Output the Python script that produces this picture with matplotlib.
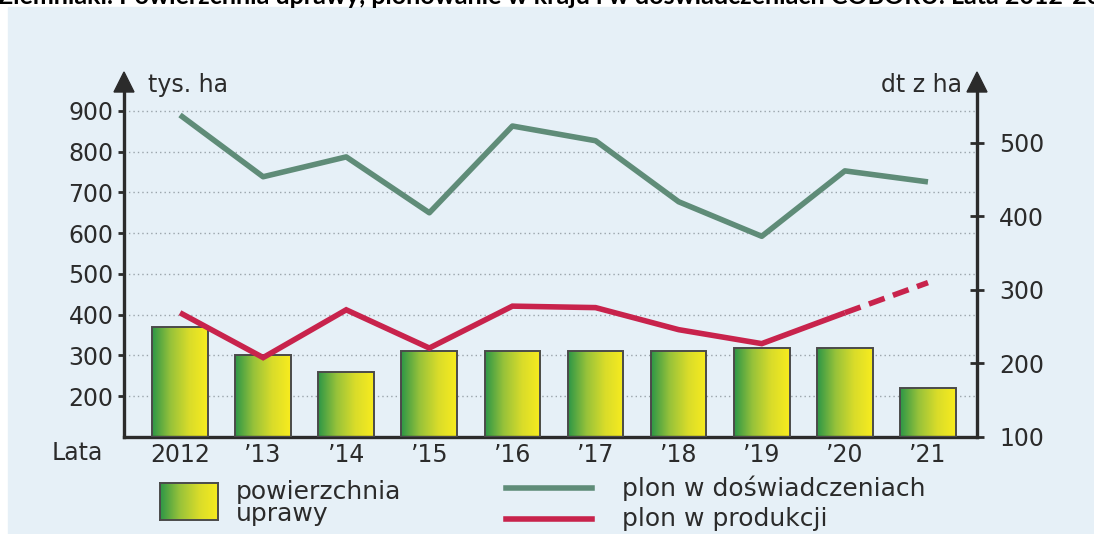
import numpy as np
import matplotlib
matplotlib.use('Agg')
import matplotlib.pyplot as plt
from matplotlib.patches import Rectangle, Polygon
from matplotlib.lines import Line2D
from matplotlib.colors import LinearSegmentedColormap

# data
years = ['2012', '\u201913', '\u201914', '\u201915', '\u201916',
         '\u201917', '\u201918', '\u201919', '\u201920', '\u201921']
area = [370, 300, 260, 310, 310, 310, 310, 318, 318, 220]          # tys. ha
yield_trials = [538, 454, 481, 405, 523, 503, 420, 373, 462, 447]  # dt z ha
yield_prod = [269, 208, 273, 221, 278, 276, 246, 227, 269, 310]    # dt z ha
left_ticks = [200, 300, 400, 500, 600, 700, 800, 900]
right_ticks = [100, 200, 300, 400, 500]

title = ('Ziemniaki. Powierzchnia uprawy, plonowanie w kraju i w '
         'do\u015bwiadczeniach COBORU. Lata 2012-2021')

plt.rcParams['font.family'] = ['DejaVu Sans']

W, H = 1094, 534
BG = '#e6f0f7'
DARK = '#2b2b2b'
GREEN = '#5f8c78'
RED = '#c8234c'
FS = 17
bar_cmap = LinearSegmentedColormap.from_list(
    'bars', ['#2c9647', '#97c23a', '#d9dc2a', '#f8ec1e'])


def px(x, y):
    # pixel position -> figure fraction
    return (x / W, 1 - y / H)


fig = plt.figure(figsize=(W / 100, H / 100), dpi=100)
fig.patches.append(Rectangle(px(8, H), 1, 1 - 7 / H, transform=fig.transFigure,
                             color=BG, zorder=-10))
fig.text(-2 / W, 1 - 4 / H, title, fontsize=18, fontweight='bold',
         family=['Lato', 'DejaVu Sans'], va='baseline', ha='left')

x0, y0 = px(124, 437)
x1, y1 = px(977, 90)
ax = fig.add_axes([x0, y0, x1 - x0, y1 - y0])
ax.set_facecolor('none')
ax2 = ax.twinx()

idx = np.arange(len(years))
base = 100

# bars with horizontal gradient
bars = ax.bar(idx, np.subtract(area, base), bottom=base, width=0.67,
              facecolor='none', edgecolor='#4a4a4a', linewidth=1.4, zorder=3)
grad = np.linspace(0, 1, 256).reshape(1, -1)
for b in bars:
    bx, by = b.get_x(), b.get_y()
    im = ax.imshow(grad, extent=[bx, bx + b.get_width(), by, by + b.get_height()],
                   aspect='auto', cmap=bar_cmap, zorder=2)
    im.set_clip_path(b)

ax.set_xlim(-0.674, 9.59)
ax.set_ylim(base, 951.5)
ax.set_yticks(left_ticks)
ax.set_xticks(idx)
ax.set_xticklabels(years)
ax.grid(axis='y', color='#9aa4ab', linestyle=(0, (1, 2.2)), linewidth=1.0, zorder=0)
ax.set_axisbelow(True)
ax.tick_params(axis='y', length=4.5, width=2, color=DARK, pad=3,
               labelsize=FS, labelcolor=DARK)
ax.tick_params(axis='x', length=0, pad=4, labelsize=FS, labelcolor=DARK)
for s in ['top', 'right']:
    ax.spines[s].set_visible(False)
for s in ['left', 'bottom']:
    ax.spines[s].set_linewidth(2.4)
    ax.spines[s].set_color(DARK)

# yield lines on the right scale
ax2.plot(idx, yield_trials, color=GREEN, linewidth=4, solid_capstyle='butt', zorder=4)
ax2.plot(idx[:-1], yield_prod[:-1], color=RED, linewidth=4,
         solid_joinstyle='miter', solid_capstyle='butt', zorder=4)
ax2.plot(idx[-2:], yield_prod[-2:], color=RED, linewidth=4,
         linestyle=(0, (3, 1.6)), dash_capstyle='butt', zorder=4)
ax2.set_ylim(base, 572)
ax2.set_yticks(right_ticks)
ax2.tick_params(axis='y', direction='inout', length=10, width=2, color=DARK,
                pad=11, labelsize=FS, labelcolor=DARK)
for s in ['top', 'left', 'bottom']:
    ax2.spines[s].set_visible(False)
ax2.spines['right'].set_linewidth(2.4)
ax2.spines['right'].set_color(DARK)

# axis arrows
for xa in (124, 977):
    fig.patches.append(Polygon([px(xa, 72), px(xa - 10, 92), px(xa + 10, 92)],
                               closed=True, transform=fig.transFigure,
                               color=DARK, zorder=5))

fig.text(*px(148, 85), 'tys. ha', fontsize=FS, color=DARK, va='center')
fig.text(*px(962, 85), 'dt z ha', fontsize=FS, color=DARK, va='center', ha='right')
fig.text(*px(52, 453), 'Lata', fontsize=FS, color=DARK, va='center')

# legend
lx0, ly0 = px(160, 520)
lx1, ly1 = px(218, 483)
lax = fig.add_axes([lx0, ly0, lx1 - lx0, ly1 - ly0])
lax.imshow(grad, aspect='auto', cmap=bar_cmap)
lax.set_xticks([])
lax.set_yticks([])
for s in lax.spines.values():
    s.set_color('#4a4a4a')
    s.set_linewidth(1.4)
fig.text(*px(236, 503), 'powierzchnia\nuprawy', fontsize=18, color=DARK,
         va='center', linespacing=0.9)
for yl, col, lab in [(488, GREEN, 'plon w do\u015bwiadczeniach'),
                     (519, RED, 'plon w produkcji')]:
    fig.lines.append(Line2D([506 / W, 592 / W], [1 - yl / H] * 2,
                            transform=fig.transFigure, color=col, linewidth=4))
    fig.text(*px(622, yl), lab, fontsize=18, color=DARK, va='center')

fig.savefig('out.png', dpi=100)
